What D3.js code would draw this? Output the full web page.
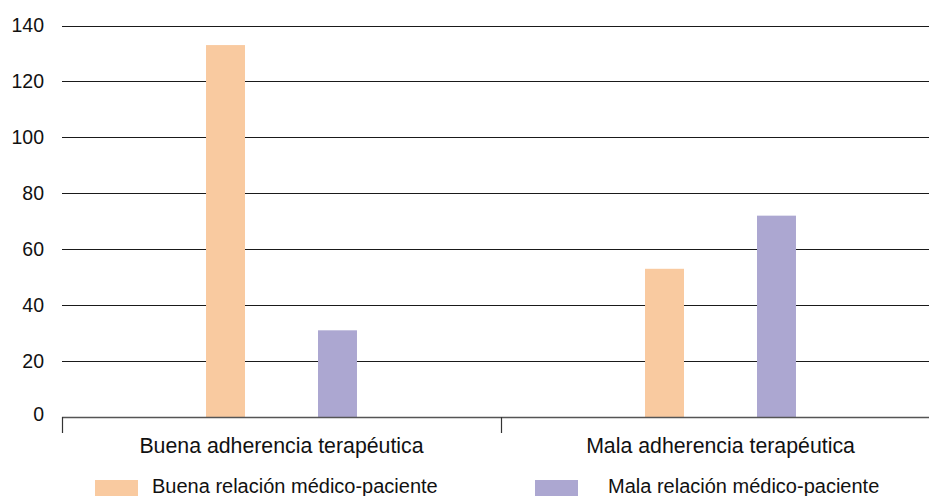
<!DOCTYPE html>
<html>
<head>
<meta charset="utf-8">
<script src="https://cdn.jsdelivr.net/npm/d3@7"></script>
<style>
  html, body { margin: 0; padding: 0; background: #fff; }
  svg { display: block; font-family: Arial, "Liberation Sans", sans-serif; }
</style>
</head>
<body>
<svg id="chart" width="929" height="496"></svg>
<script>
// Adherence groups on the x axis
const categories = ["Buena adherencia terapéutica", "Mala adherencia terapéutica"];
// Doctor–patient relationship series
const series = ["Buena relación médico-paciente", "Mala relación médico-paciente"];
const buenaRelacion = [133, 53];
const malaRelacion = [31, 72];
const yTicks = [0, 20, 40, 60, 80, 100, 120, 140];
const colors = ["#F9CAA0", "#ACA7D1"];

const values = [buenaRelacion, malaRelacion];
const svg = d3.select("#chart");

const plotLeft = 62, plotRight = 940, plotTop = 25.5, plotBottom = 417;

const x0 = d3.scaleBand().domain(categories).range([plotLeft, plotRight]).padding(0);
const x1 = d3.scaleBand().domain(series).range([0, x0.bandwidth()])
  .paddingInner(0.652).paddingOuter(1.286);
const y = d3.scaleLinear().domain([0, 140]).range([plotBottom, plotTop]);

// Horizontal gridlines (excluding zero, drawn as the baseline)
svg.append("g")
  .selectAll("line")
  .data(yTicks.filter(d => d > 0))
  .join("line")
  .attr("x1", plotLeft).attr("x2", 929)
  .attr("y1", d => Math.round(y(d)) + 0.5).attr("y2", d => Math.round(y(d)) + 0.5)
  .attr("stroke", "#1a1a1a").attr("stroke-width", 1);

// Y tick labels
svg.append("g")
  .selectAll("text")
  .data(yTicks)
  .join("text")
  .attr("x", 44)
  .attr("y", d => y(d) - (d === 0 ? 3 : 0))
  .attr("dy", "0.35em")
  .attr("text-anchor", "end")
  .attr("font-size", 19.5)
  .attr("fill", "#111")
  .text(d => d);

// Bars
const groups = svg.append("g")
  .selectAll("g")
  .data(categories)
  .join("g")
  .attr("transform", d => `translate(${x0(d)},0)`);

groups.selectAll("rect")
  .data((c, i) => series.map((s, k) => ({ s, k, v: values[k][i] })))
  .join("rect")
  .attr("x", d => x1(d.s))
  .attr("width", x1.bandwidth())
  .attr("y", d => y(d.v))
  .attr("height", d => y(0) - y(d.v))
  .attr("fill", d => colors[d.k]);

// Baseline and category ticks
svg.append("line")
  .attr("x1", plotLeft).attr("x2", 929)
  .attr("y1", plotBottom + 0.5).attr("y2", plotBottom + 0.5)
  .attr("stroke", "#555").attr("stroke-width", 1.5);

const tickXs = categories.map(c => x0(c)).concat([x0(categories[1]) + x0.bandwidth()]);
svg.append("g")
  .selectAll("line")
  .data(tickXs)
  .join("line")
  .attr("x1", d => Math.round(d) + 0.5).attr("x2", d => Math.round(d) + 0.5)
  .attr("y1", plotBottom).attr("y2", plotBottom + 16)
  .attr("stroke", "#333").attr("stroke-width", 1.2);

// Category labels
svg.append("g")
  .selectAll("text")
  .data(categories)
  .join("text")
  .attr("x", d => x0(d) + x0.bandwidth() / 2)
  .attr("y", 453)
  .attr("text-anchor", "middle")
  .attr("font-size", 21.3)
  .attr("fill", "#111")
  .text(d => d);

// Legend
const legendPos = [{ sx: 95, tx: 152 }, { sx: 535, tx: 608 }];
const legend = svg.append("g")
  .selectAll("g")
  .data(series)
  .join("g");
legend.append("rect")
  .attr("x", (d, i) => legendPos[i].sx)
  .attr("y", 480)
  .attr("width", 43)
  .attr("height", 18)
  .attr("fill", (d, i) => colors[i]);
legend.append("text")
  .attr("x", (d, i) => legendPos[i].tx)
  .attr("y", 493)
  .attr("font-size", 20)
  .attr("fill", "#111")
  .text(d => d);
</script>
</body>
</html>
